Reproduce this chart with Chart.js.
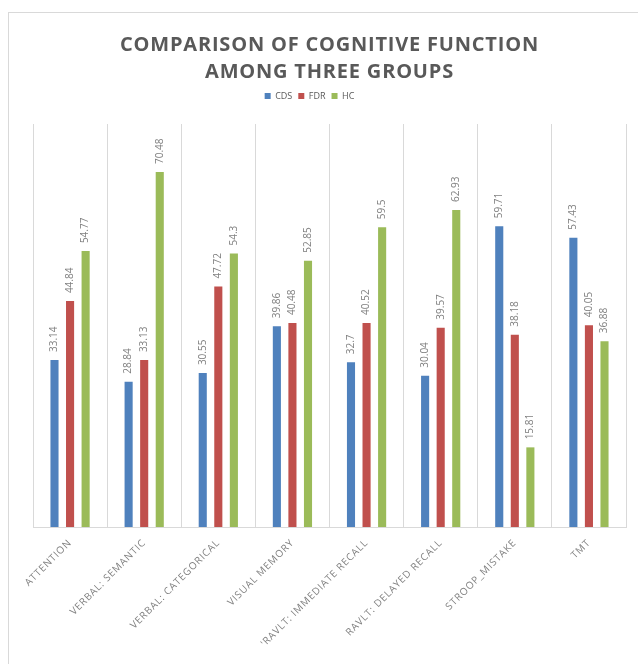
<!DOCTYPE html>
<html><head><meta charset="utf-8">
<script src="https://cdn.jsdelivr.net/npm/chart.js@4/dist/chart.umd.min.js"></script>
<style>
html,body{margin:0;padding:0;background:#fff;overflow:hidden;}
#frame{position:absolute;left:8px;top:12px;width:700px;height:700px;border:1px solid #d9d9d9;}
#wrap{position:absolute;left:0;top:0;width:638px;height:664px;}
</style></head><body>
<div id="frame"></div>
<div id="wrap"><canvas id="c" width="638" height="664"></canvas></div>
<script>
const categories = ['ATTENTION', 'VERBAL: SEMANTIC', 'VERBAL: CATEGORICAL', 'VISUAL MEMORY', "'RAVLT: IMMEDIATE RECALL", 'RAVLT: DELAYED RECALL', 'STROOP_MISTAKE', 'TMT'];
const seriesNames = ['CDS', 'FDR', 'HC'];
const cdsValues = [33.14, 28.84, 30.55, 39.86, 32.7, 30.04, 59.71, 57.43];
const fdrValues = [44.84, 33.13, 47.72, 40.48, 40.52, 39.57, 38.18, 40.05];
const hcValues = [54.77, 70.48, 54.3, 52.85, 59.5, 62.93, 15.81, 36.88];
const seriesColors = ['#4F81BD', '#C0504D', '#9BBB59'];
const titleLines = ['COMPARISON OF COGNITIVE FUNCTION', 'AMONG THREE GROUPS'];

const spacing = {
  id: 'spacing',
  beforeDraw(chart) { chart.ctx.letterSpacing = '0.8px'; }
};
const legendSpace = {
  id: 'legendSpace',
  beforeInit(chart) {
    const lg = chart.legend;
    const fit = lg.fit;
    lg.fit = function () { fit.bind(lg)(); this.height += 13.5; };
    const draw = lg.draw;
    lg.draw = function () {
      const ctx = this.ctx;
      ctx.save();
      ctx.letterSpacing = '0px';
      draw.apply(this, arguments);
      ctx.restore();
    };
  },
  afterLayout(chart) { chart.legend.left -= 20; chart.legend.right -= 20; }
};
const valueLabels = {
  id: 'valueLabels',
  afterDatasetsDraw(chart) {
    const ctx = chart.ctx;
    chart.data.datasets.forEach((ds, i) => {
      chart.getDatasetMeta(i).data.forEach((bar, j) => {
        ctx.save();
        ctx.letterSpacing = '0px';
        ctx.font = '10px "Open Sans"';
        ctx.fillStyle = '#808080';
        ctx.translate(bar.x, bar.y - 8);
        ctx.rotate(-Math.PI / 2);
        ctx.textAlign = 'left';
        ctx.textBaseline = 'middle';
        ctx.fillText(String(ds.data[j]), 0, 0);
        ctx.restore();
      });
    });
  }
};

new Chart(document.getElementById('c'), {
  type: 'bar',
  data: {
    labels: categories,
    datasets: [
      { label: seriesNames[0], data: cdsValues, backgroundColor: seriesColors[0] },
      { label: seriesNames[1], data: fdrValues, backgroundColor: seriesColors[1] },
      { label: seriesNames[2], data: hcValues, backgroundColor: seriesColors[2] }
    ]
  },
  options: {
    responsive: false,
    animation: false,
    devicePixelRatio: 1,
    categoryPercentage: 0.63,
    barPercentage: 0.52,
    layout: { padding: { left: 33, right: 12, top: 0, bottom: 0 } },
    plugins: {
      title: {
        display: true, text: titleLines, color: '#595959',
        font: { family: 'Open Sans', size: 20, weight: 'bold', lineHeight: 1.35 },
        padding: { top: 31.5, bottom: 0 }
      },
      legend: {
        display: true, position: 'top',
        labels: { boxWidth: 6, boxHeight: 6, padding: 6, color: '#595959', font: { family: 'Open Sans', size: 9 } }
      },
      tooltip: { enabled: false }
    },
    scales: {
      x: {
        grid: { display: true, drawTicks: false, color: '#d9d9d9', offset: true },
        border: { color: '#d9d9d9' },
        ticks: { autoSkip: false, maxRotation: 45, minRotation: 45, padding: 10, color: '#808080', font: { family: 'Open Sans', size: 10 } },
        afterFit(scale) { scale.height = 137; }
      },
      y: { display: false, min: 0, max: 80 }
    }
  },
  plugins: [spacing, legendSpace, valueLabels]
});
</script>
</body></html>
